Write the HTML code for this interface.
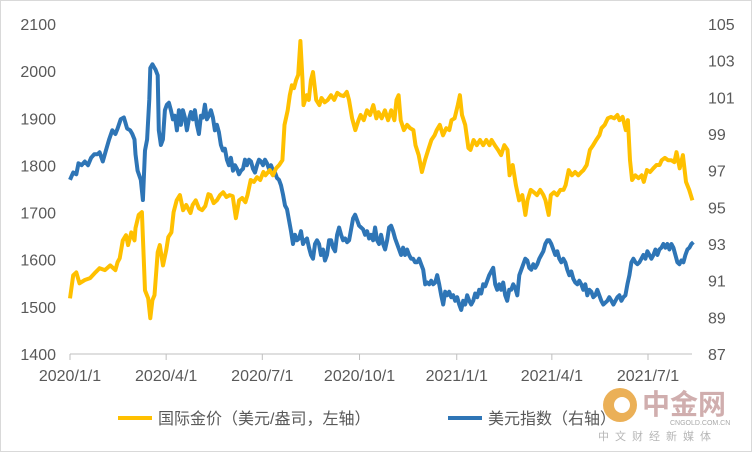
<!DOCTYPE html>
<html><head><meta charset="utf-8"><style>
body{margin:0;background:#fff;}
svg{display:block;font-family:"Liberation Sans","Noto Sans CJK SC",sans-serif;}
</style></head><body>
<svg id="chart" width="752" height="452" viewBox="0 0 752 452">
<rect x="0.5" y="0.5" width="751" height="451" fill="#fff" stroke="#d9d9d9"/>
<g id="axes"></g>
<g id="series"></g>
<g>
<line x1="118" y1="418" x2="152" y2="418" stroke="#FFC000" stroke-width="4"/>
<text x="158" y="424" font-size="16" fill="#595959">国际金价（美元/盎司，左轴）</text>
<line x1="448" y1="418" x2="482" y2="418" stroke="#2E75B6" stroke-width="4"/>
<text x="488" y="424" font-size="16" fill="#595959">美元指数（右轴）</text>
</g>
<g opacity="0.85">
<circle cx="620" cy="405" r="17" fill="#e8a33a"/>
<circle cx="622" cy="405" r="8" fill="#fff"/>
<text x="642" y="414" font-size="28" font-weight="bold" fill="#c8a0a0">中金网</text>
<text x="670" y="425" font-size="7" fill="#999">CNGOLD.COM.CN</text>
<text x="598" y="440" font-size="11" fill="#aaa" letter-spacing="6">中文财经新媒体</text>
</g>
</svg>
<script>
const leftTicks=[1400,1500,1600,1700,1800,1900,2000,2100];
const rightTicks=[87,89,91,93,95,97,99,101,103,105];
const xTickLabels=["2020/1/1","2020/4/1","2020/7/1","2020/10/1","2021/1/1","2021/4/1","2021/7/1"];
const xTickDays=[0,91,182,274,366,456,547];
const goldDays=[0,3,6,9,14,19,24,28,33,38,43,45,47,50,53,55,58,61,62,65,68,71,74,76,78,80,83,85,88,91,93,96,98,101,104,107,110,114,116,119,122,125,128,131,133,136,139,142,145,148,151,154,157,160,163,166,168,171,174,177,180,183,185,189,192,195,198,201,203,206,208,210,212,214,216,218,220,221,224,226,228,230,233,236,238,241,244,247,250,253,256,259,262,264,267,270,273,275,278,281,284,287,290,292,295,298,301,304,307,309,311,313,316,319,322,325,327,330,333,336,339,342,345,347,350,353,356,359,361,364,367,369,371,374,377,379,382,385,388,391,394,397,399,402,405,408,411,414,416,419,422,425,428,431,433,436,439,442,445,448,450,453,455,458,461,464,467,469,472,475,478,481,484,486,489,492,495,498,501,503,506,509,512,515,518,520,523,526,528,530,532,535,538,541,543,546,549,552,555,558,560,563,566,569,572,574,577,580,583,586,589];
const gold=[1518,1567,1573,1550,1557,1561,1573,1582,1578,1588,1578,1595,1603,1641,1652,1631,1658,1641,1667,1695,1701,1535,1518,1476,1514,1525,1616,1631,1588,1620,1648,1658,1701,1726,1737,1705,1716,1699,1716,1726,1709,1705,1714,1739,1737,1720,1726,1737,1743,1733,1737,1735,1688,1726,1731,1722,1737,1769,1765,1775,1769,1786,1779,1790,1779,1794,1801,1811,1886,1917,1949,1970,1964,1981,1992,2064,1981,1928,1949,1939,1981,1998,1939,1928,1943,1934,1939,1949,1939,1954,1949,1947,1956,1939,1900,1875,1896,1907,1896,1917,1907,1928,1900,1913,1900,1917,1896,1917,1896,1939,1949,1896,1875,1886,1879,1875,1843,1822,1786,1811,1833,1854,1864,1875,1886,1864,1879,1875,1896,1900,1928,1949,1907,1886,1837,1833,1854,1843,1854,1843,1854,1843,1854,1843,1833,1822,1843,1833,1779,1801,1758,1726,1737,1695,1726,1748,1743,1737,1748,1737,1726,1695,1737,1743,1737,1748,1748,1758,1790,1779,1786,1779,1786,1790,1801,1833,1843,1854,1864,1879,1886,1900,1903,1900,1907,1896,1903,1875,1896,1811,1769,1779,1773,1779,1765,1790,1786,1794,1801,1801,1811,1816,1811,1811,1807,1828,1794,1822,1765,1748,1726];
const dollarHeadDays=[0,3,6,8,11,14,17,20,23,26,28,31,34,37,40,43,45,48,51,54,57,59,61,62,64,67,69,71,73,75,76,78,79,81,83,84];
const dollarTailStart=86, dollarTailEnd=590;
const dollar=[96.5,96.9,96.8,97.4,97.3,97.5,97.3,97.7,97.9,97.9,98.0,97.5,98.1,98.7,99.2,99.0,99.3,99.8,99.9,99.3,99.2,99.0,98.7,97.9,97.0,96.5,95.4,98.1,98.7,100.9,102.6,102.8,102.7,102.5,102.2,99.2,98.4,98.7,100.3,100.6,100.7,100.3,99.8,100.0,99.2,100.3,99.5,100.3,99.9,99.2,99.8,100.2,99.8,100.3,99.5,99.0,100.0,99.9,100.6,99.8,100.0,100.3,99.9,99.2,99.5,99.1,98.4,98.1,98.2,97.6,97.3,97.7,97.0,97.3,97.1,96.8,97.0,97.1,97.6,97.3,97.6,97.5,97.1,96.9,97.3,97.6,97.5,97.3,97.6,97.4,97.1,97.3,97.0,96.9,96.6,96.5,96.2,95.7,95.1,94.9,94.3,93.7,93.0,93.5,93.2,93.3,93.7,93.0,93.2,93.3,92.8,92.4,92.2,93.0,93.2,93.0,92.4,92.7,92.1,92.4,93.2,93.2,92.8,92.6,93.5,93.9,93.5,93.2,93.3,93.1,93.2,93.8,94.4,94.6,94.3,94.0,93.9,93.8,93.5,93.7,93.3,93.5,93.2,93.9,93.2,93.0,93.5,93.0,92.7,93.2,93.9,94.0,93.7,93.3,93.0,92.7,92.4,92.8,92.4,92.7,92.4,92.2,92.2,92.0,92.0,92.2,91.9,91.6,90.8,90.9,90.8,91.0,90.8,90.9,91.3,90.8,90.2,89.7,90.4,90.2,90.4,90.1,90.2,89.9,90.1,89.7,89.4,89.9,89.7,90.2,89.9,89.7,89.9,90.3,90.1,90.5,90.3,90.8,90.7,91.0,91.3,91.5,91.7,90.8,90.5,90.8,90.5,90.9,90.2,89.9,90.5,90.5,90.8,90.6,90.2,91.3,91.6,91.9,92.2,92.1,91.7,91.6,91.9,91.7,91.9,92.2,92.4,92.6,93.0,93.2,93.2,93.0,92.7,92.4,92.6,92.2,92.0,92.2,92.0,91.6,91.3,91.5,91.1,90.9,90.8,91.0,90.8,90.5,90.8,90.2,90.5,90.4,90.1,90.2,90.5,90.2,89.9,89.7,89.8,89.9,90.1,89.9,89.7,89.9,90.1,90.2,89.9,90.1,90.2,90.8,91.3,92.0,92.2,92.0,91.9,92.0,92.2,92.4,92.2,92.6,92.4,92.2,92.4,92.7,92.4,92.7,92.8,93.0,92.8,93.0,92.7,93.0,92.8,92.4,92.0,91.9,92.1,92.0,92.4,92.7,92.8,93.0,93.1];

const X0=70,X1=648,Y0=24,Y1=354;
const xScale=d=>X0+(d/547)*(X1-X0);
const yL=v=>Y1-(v-1400)/700*(Y1-Y0);
const yR=v=>Y1-(v-87)/18*(Y1-Y0);
const NS="http://www.w3.org/2000/svg";
function mk(tag,attrs,parent){const e=document.createElementNS(NS,tag);for(const k in attrs)e.setAttribute(k,attrs[k]);parent.appendChild(e);return e;}
const axes=document.getElementById('axes'),series=document.getElementById('series');
let ax=mk('line',{x1:X0,y1:Y1,x2:692,y2:Y1,stroke:'#bfbfbf','stroke-width':1},axes);


leftTicks.forEach(v=>{const t=mk('text',{x:56,y:yL(v)+6,'font-size':16,fill:'#595959','text-anchor':'end'},axes);t.textContent=v;

});
rightTicks.forEach(v=>{const t=mk('text',{x:708,y:yR(v)+6,'font-size':16,fill:'#595959'},axes);t.textContent=v;

});
xTickDays.forEach((d,i)=>{const x=xScale(d);
const tk=mk('line',{x1:x,y1:Y1,x2:x,y2:Y1+6,stroke:'#bfbfbf'},axes);


const t=mk('text',{x:x,y:Y1+27,'font-size':16,fill:'#595959','text-anchor':'middle'},axes);t.textContent=xTickLabels[i];

});
const dollarDays=dollarHeadDays.slice();
const tailN=dollar.length-dollarHeadDays.length;
for(let i=0;i<tailN;i++)dollarDays.push(dollarTailStart+(dollarTailEnd-dollarTailStart)*i/Math.max(1,tailN-1));
function path(days,arr,sc){const n=Math.min(days.length,arr.length);let s='';for(let i=0;i<n;i++)s+=(i?'L':'M')+xScale(days[i]).toFixed(1)+','+sc(arr[i]).toFixed(1);return s;}
const pd=mk('path',{d:path(dollarDays,dollar,yR),fill:'none',stroke:'#2E75B6','stroke-width':4,'stroke-linejoin':'round'},series);


const pg=mk('path',{d:path(goldDays,gold,yL),fill:'none',stroke:'#FFC000','stroke-width':4,'stroke-linejoin':'round'},series);


</script>
</body></html>
